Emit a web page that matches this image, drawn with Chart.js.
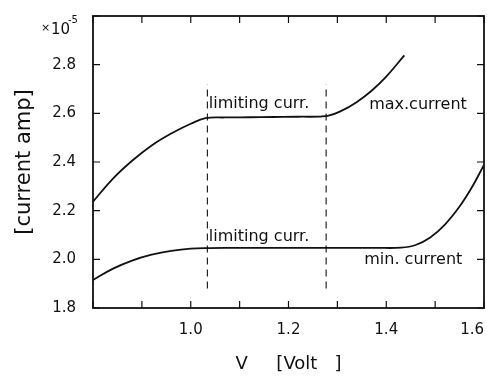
<!DOCTYPE html>
<html>
<head>
<meta charset="utf-8">
<script src="https://cdn.jsdelivr.net/npm/chart.js@4/dist/chart.umd.min.js"></script>
<style>
  html, body { margin: 0; padding: 0; background: #fff; }
  #wrap { width: 487px; height: 377px; position: relative; }
</style>
</head>
<body>
<div id="wrap"><canvas id="c" width="487" height="377"></canvas></div>
<script>
// Voltage (V) and current (units of 1e-5 A) along the two measured curves
const maxV = [0.800, 0.840, 0.880, 0.920, 0.960, 1.000, 1.030, 1.070, 1.120, 1.170, 1.220, 1.280, 1.310, 1.340, 1.370, 1.400, 1.437];
const maxI = [2.237, 2.330, 2.405, 2.468, 2.517, 2.557, 2.580, 2.583, 2.584, 2.585, 2.586, 2.590, 2.612, 2.647, 2.693, 2.751, 2.838];

const minV = [0.800, 0.840, 0.880, 0.920, 0.960, 1.000, 1.040, 1.100, 1.170, 1.240, 1.310, 1.380, 1.430, 1.460, 1.490, 1.520, 1.550, 1.575, 1.600];
const minI = [1.915, 1.961, 1.995, 2.019, 2.035, 2.044, 2.046, 2.047, 2.047, 2.047, 2.047, 2.047, 2.048, 2.059, 2.090, 2.143, 2.217, 2.295, 2.388];

// Limiting-current boundaries (dashed verticals)
const limitV = [1.034, 1.277];
const limitSpan = [1.88, 2.72];

// Axis ranges and ticks
const xRange = [0.8, 1.6];
const yRange = [1.8, 3.0];
const xLabelled = [1.0, 1.2, 1.4, 1.6];
const yLabelled = [1.8, 2.0, 2.2, 2.4, 2.6, 2.8];

// Curve annotations: [text, V, I]
const notes = [
  ['limiting curr.', 1.037, 2.640],
  ['max.current', 1.365, 2.636],
  ['limiting curr.', 1.037, 2.094],
  ['min. current', 1.355, 1.999]
];

const FONT = '"DejaVu Sans", sans-serif';
const INK = '#111';

const toPts = (xs, ys) => xs.map((x, i) => ({ x, y: ys[i] }));

const datasets = [
  { data: toPts(maxV, maxI), borderColor: INK, borderWidth: 1.8, pointRadius: 0, tension: 0.4, fill: false },
  { data: toPts(minV, minI), borderColor: INK, borderWidth: 1.8, pointRadius: 0, tension: 0.4, fill: false }
];
limitV.forEach(v => {
  datasets.push({
    data: [{ x: v, y: limitSpan[0] }, { x: v, y: limitSpan[1] }],
    borderColor: INK, borderWidth: 1.1, borderDash: [7, 5], pointRadius: 0, fill: false
  });
});

// Frame, inward ticks on all sides, the x10^-5 multiplier and the curve notes
const framePlugin = {
  id: 'frame',
  afterDraw(chart) {
    const { ctx, chartArea: a, scales: { x, y } } = chart;
    ctx.save();
    ctx.strokeStyle = INK;
    ctx.lineWidth = 1.8;
    ctx.strokeRect(a.left, a.top, a.right - a.left, a.bottom - a.top);

    ctx.lineWidth = 1.2;
    const L = 7;
    ctx.beginPath();
    for (let k = 0; k <= 8; k++) {
      const px = x.getPixelForValue(xRange[0] + k * 0.1);
      ctx.moveTo(px, a.bottom); ctx.lineTo(px, a.bottom - L);
      ctx.moveTo(px, a.top); ctx.lineTo(px, a.top + L);
    }
    for (let k = 0; k <= 6; k++) {
      const py = y.getPixelForValue(yRange[0] + k * 0.2);
      ctx.moveTo(a.left, py); ctx.lineTo(a.left + L, py);
      ctx.moveTo(a.right, py); ctx.lineTo(a.right - L, py);
    }
    ctx.stroke();

    // multiplier above the y axis
    ctx.fillStyle = INK;
    ctx.textBaseline = 'alphabetic';
    ctx.textAlign = 'left';
    ctx.font = '11px ' + FONT;
    ctx.fillText('\u00d7', 41, 31);
    ctx.font = '15px ' + FONT;
    ctx.fillText('10', 51, 34);
    ctx.font = '10px ' + FONT;
    ctx.fillText('-5', 68, 23);

    // curve notes
    ctx.font = '16px ' + FONT;
    ctx.textBaseline = 'middle';
    notes.forEach(([t, v, i]) => {
      ctx.fillText(t, x.getPixelForValue(v), y.getPixelForValue(i));
    });
    ctx.restore();
  }
};

new Chart(document.getElementById('c'), {
  type: 'line',
  data: { datasets },
  plugins: [framePlugin],
  options: {
    responsive: false,
    animation: false,
    events: [],
    layout: { padding: { top: 16, right: 3, left: 0, bottom: 0 } },
    plugins: { legend: { display: false }, tooltip: { enabled: false } },
    scales: {
      x: {
        type: 'linear',
        min: xRange[0], max: xRange[1],
        grid: { display: false, drawTicks: false },
        border: { display: false },
        ticks: {
          stepSize: 0.1,
          autoSkip: false,
          maxRotation: 0,
          align: 'inner',
          padding: 13,
          color: INK,
          font: { family: FONT, size: 15 },
          callback: v => xLabelled.some(t => Math.abs(t - v) < 1e-6) ? v.toFixed(1) : ''
        },
        title: {
          display: true,
          text: 'V     [Volt   ]',
          color: INK,
          font: { family: FONT, size: 18 },
          padding: { top: 0, bottom: 2 }
        },
        afterFit(s) { s.height = 69; s.paddingLeft = 0; s.paddingRight = 0; }
      },
      y: {
        type: 'linear',
        min: yRange[0], max: yRange[1],
        grid: { display: false, drawTicks: false },
        border: { display: false },
        ticks: {
          stepSize: 0.2,
          autoSkip: false,
          padding: 17,
          color: INK,
          font: { family: FONT, size: 15 },
          callback: v => yLabelled.some(t => Math.abs(t - v) < 1e-6) ? v.toFixed(1) : ''
        },
        title: {
          display: true,
          text: '[current amp]',
          color: INK,
          font: { family: FONT, size: 21 },
          padding: { top: 12, bottom: 0 }
        },
        afterFit(s) { s.width = 93; s.paddingTop = 0; s.paddingBottom = 0; }
      }
    }
  }
});
</script>
</body>
</html>
